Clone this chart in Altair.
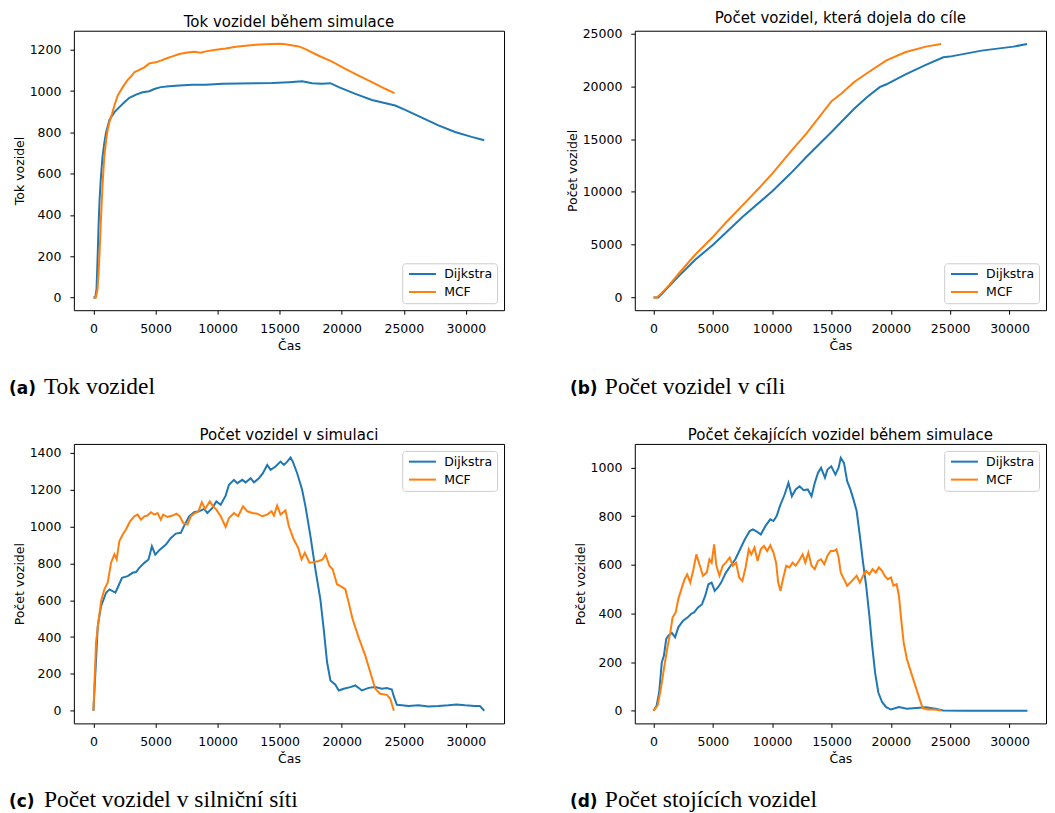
import altair as alt
import pandas as pd

# ---------------- data ----------------
series_names = ["Dijkstra", "MCF"]
series_colors = ["#1f77b4", "#ff7f0e"]
x_ticks = [0, 5000, 10000, 15000, 20000, 25000, 30000]

panel_titles = ["Tok vozidel během simulace", "Počet vozidel, která dojela do cíle",
                "Počet vozidel v simulaci", "Počet čekajících vozidel během simulace"]
y_titles = ["Tok vozidel", "Počet vozidel", "Počet vozidel", "Počet vozidel"]
caption_letters = ["(a)", "(b)", "(c)", "(d)"]
caption_texts = ["Tok vozidel", "Počet vozidel v cíli", "Počet vozidel v silniční síti", "Počet stojících vozidel"]

a_y_ticks = [0, 200, 400, 600, 800, 1000, 1200]
b_y_ticks = [0, 5000, 10000, 15000, 20000, 25000]
c_y_ticks = [0, 200, 400, 600, 800, 1000, 1200, 1400]
d_y_ticks = [0, 200, 400, 600, 800, 1000]

# (a) flow
a_dij_t = [0, 150, 250, 330, 420, 500, 600, 730, 880, 1020, 1290, 1690, 2090, 2490, 2890, 3430, 3960, 4500, 4900,
           5430, 6100, 6910, 7980, 9050, 10390, 11730, 13060, 14400, 15740, 16810, 17620, 18420, 19090, 19760,
           21100, 22430, 24310, 25110, 26450, 27790, 29130, 30460, 31480]
a_dij_v = [0, 0, 40, 180, 360, 480, 580, 680, 750, 800, 860, 898, 922, 946, 967, 983, 994, 999, 1010,
           1019, 1023, 1027, 1030, 1031, 1035, 1036, 1038, 1039, 1043, 1047, 1038, 1035, 1038, 1019,
           986, 957, 930, 909, 871, 834, 802, 778, 762]
a_mcf_t = [0, 190, 330, 460, 600, 730, 870, 1020, 1140, 1290, 1500, 1690, 1950, 2360, 2760, 3030, 3290, 3690,
           4100, 4500, 5030, 5430, 5970, 6370, 6910, 7580, 8110, 8650, 9050, 9850, 10650, 11460, 12260, 13060,
           13870, 14940, 15470, 16540, 17080, 18150, 19220, 20290, 21360, 22430, 23500, 24250]
a_mcf_v = [0, 0, 40, 170, 370, 540, 680, 760, 810, 850, 890, 930, 978, 1019, 1054, 1070, 1091, 1102,
           1115, 1134, 1139, 1147, 1160, 1168, 1179, 1187, 1190, 1186, 1192, 1200, 1206, 1214, 1219, 1224,
           1227, 1229, 1227, 1216, 1203, 1171, 1142, 1107, 1075, 1043, 1011, 990]

# (b) arrived vehicles
b_dij_t = [0, 400, 670, 1340, 2150, 3490, 5020, 7520, 10010, 11540, 12880, 15000, 16910, 17980, 19060, 19590,
           21200, 22810, 24420, 24960, 27650, 30330, 31480]
b_dij_v = [0, 0, 315, 1100, 2044, 3554, 5000, 7642, 10064, 11730, 13303, 15662, 17864, 18964, 19908, 20160,
           21103, 21952, 22738, 22801, 23367, 23745, 23997]
b_mcf_t = [0, 270, 540, 1340, 2150, 3490, 5020, 6170, 7520, 8860, 10010, 11540, 12880, 15000, 15840, 16910,
           17980, 19590, 21200, 22950, 24240]
b_mcf_v = [0, 0, 252, 1195, 2296, 4026, 5755, 7171, 8743, 10316, 11730, 13775, 15505, 18587, 19300, 20400,
           21229, 22424, 23210, 23745, 23997]

# (c) vehicles in simulation
c_dij_t = [0, 350, 620, 1020, 1290, 1770, 1950, 2300, 2760, 3160, 3430, 3690, 4100, 4440, 4710, 4980, 5350,
           5840, 6240, 6640, 7040, 7310, 7710, 8110, 8510, 8910, 9180, 9580, 9900, 10250, 10650, 10920, 11320,
           11590, 11990, 12260, 12660, 12930, 13330, 13650, 14000, 14270, 14670, 15070, 15340, 15610, 15880,
           16060, 16410, 16810, 17080, 17480, 17880, 18280, 18550, 18820, 19090, 19490, 19760, 20160, 20690,
           21100, 21630, 22170, 22700, 23240, 23640, 24040, 24170, 24440, 24840, 25380, 26180, 26980, 27790,
           28590, 29260, 29930, 30730, 31130, 31480]
c_dij_v = [0, 461, 569, 641, 659, 641, 668, 722, 731, 749, 753, 776, 803, 821, 893, 848, 875,
           902, 938, 962, 966, 1005, 1056, 1078, 1083, 1096, 1074, 1101, 1137, 1119, 1168, 1227, 1254,
           1236, 1254, 1240, 1263, 1240, 1263, 1290, 1335, 1308, 1326, 1353, 1335, 1353, 1375,
           1353, 1290, 1200, 1110, 948, 768, 605, 443, 263, 164, 141, 110, 119, 128,
           137, 110, 124, 128, 119, 123, 115, 83, 32, 29, 25, 29, 23, 25,
           29, 34, 29, 25, 25, 0]
c_mcf_t = [0, 210, 430, 620, 880, 1150, 1420, 1690, 1870, 2090, 2360, 2620, 2950, 3290, 3560, 3830, 4100, 4360,
           4630, 4900, 5170, 5430, 5620, 5970, 6370, 6690, 6960, 7230, 7580, 7840, 8110, 8460, 8730, 9000, 9370,
           9640, 9900, 10250, 10650, 10920, 11320, 11650, 12050, 12400, 12800, 13200, 13600, 14000, 14350,
           14540, 14800, 15070, 15470, 15740, 16140, 16490, 16760, 17030, 17400, 17750, 18150, 18470, 18690,
           19010, 19270, 19620, 19970, 20290, 20560, 20880, 21360, 21900, 22300, 22700, 23100, 23640, 23910,
           24200]
c_mcf_v = [0, 371, 497, 596, 659, 695, 804, 849, 822, 921, 957, 984, 1029, 1056, 1065, 1038, 1056, 1060,
           1078, 1065, 1074, 1038, 1065, 1052, 1060, 1070, 1056, 1020, 1011, 1056, 1070, 1083, 1132, 1096, 1137,
           1110, 1092, 1056, 998, 1047, 1074, 1056, 1110, 1083, 1074, 1070, 1056, 1065, 1083,
           1060, 1114, 1065, 1088, 1002, 930, 885, 822, 858, 804, 807, 813, 822, 849,
           786, 768, 687, 674, 660, 587, 497, 398, 299, 209, 119, 92, 86, 65,
           0]

# (d) waiting vehicles
d_dij_t = [0, 270, 480, 700, 880, 1070, 1280, 1550, 1820, 2090, 2490, 2890, 3160, 3420, 3750, 4090, 4360, 4630,
           4900, 5160, 5430, 5700, 6100, 6500, 6900, 7300, 7700, 8110, 8370, 8640, 9040, 9440, 9840, 10110,
           10380, 10650, 11050, 11370, 11660, 11980, 12310, 12650, 13000, 13320, 13590, 13860, 14120, 14450,
           14660, 14980, 15330, 15600, 15780, 16050, 16320, 16590, 16850, 17120, 17390, 17660, 17920, 18190,
           18400, 18670, 18940, 19260, 19610, 20010, 20680, 21350, 22150, 22950, 23750, 24420, 26160, 28840,
           31510]
d_dij_v = [0, 22, 76, 199, 227, 295, 311, 320, 302, 343, 370, 384, 398, 404, 425, 438, 473, 520,
           527, 493, 507, 527, 568, 596, 623, 664, 705, 739, 746, 739, 725, 760, 787, 780,
           800, 841, 889, 937, 882, 910, 923, 907, 910, 882, 937, 978, 999, 958,
           992, 1005, 971, 999, 1040, 1019, 944, 910, 869, 821, 719, 609, 514, 391,
           281, 158, 76, 36, 15, 5, 15, 8, 11, 14, 8, 1, 0, 0,
           0]
d_mcf_t = [0, 350, 620, 880, 1150, 1420, 1610, 1870, 2090, 2350, 2620, 2840, 3100, 3370, 3610, 3910, 4170, 4490,
           4710, 4900, 5110, 5300, 5560, 5830, 6100, 6420, 6690, 6960, 7220, 7490, 7760, 8030, 8240, 8510, 8770,
           9040, 9310, 9580, 9840, 10110, 10330, 10510, 10700, 10910, 11180, 11450, 11720, 11980, 12250, 12570,
           12790, 13050, 13320, 13590, 13860, 14120, 14390, 14660, 14930, 15200, 15410, 15600, 15780, 16050,
           16320, 16590, 16850, 17120, 17390, 17660, 17920, 18190, 18460, 18730, 18990, 19260, 19470, 19740,
           20010, 20220, 20490, 20680, 20870, 21080, 21350, 21610, 21880, 22150, 22420, 22680, 23090, 23620,
           24290]
d_mcf_v = [0, 22, 90, 172, 254, 322, 384, 404, 459, 500, 541, 561, 527, 582, 643, 596, 555, 568,
           623, 609, 684, 596, 555, 596, 609, 630, 596, 609, 548, 534, 589, 664, 643, 671, 616,
           664, 678, 657, 680, 650, 609, 527, 493, 541, 596, 589, 609, 596, 616, 643,
           609, 650, 596, 582, 616, 623, 602, 637, 657, 657, 664, 630, 568, 541,
           514, 527, 541, 555, 527, 555, 575, 561, 582, 568, 589, 575, 555, 541,
           548, 514, 520, 473, 377, 281, 213, 172, 131, 90, 49, 11, 5, 5,
           1]

# ---------------- chart ----------------
W_LEFT, W_RIGHT, H = 431, 412, 280
X_DOMAIN = [-1575, 33075]
FONT = "DejaVu Sans"


def frame(dt, dv, mt, mv):
    return pd.DataFrame({
        "t": list(dt) + list(mt),
        "v": list(dv) + list(mv),
        "s": [series_names[0]] * len(dt) + [series_names[1]] * len(mt),
    })


def panel(df, i, yticks, ydomain, legend_orient, width):
    lines = alt.Chart(df).mark_line(strokeWidth=2).encode(
        x=alt.X("t:Q", title="Čas",
                scale=alt.Scale(domain=X_DOMAIN, nice=False, zero=False),
                axis=alt.Axis(values=x_ticks, format="d")),
        y=alt.Y("v:Q", title=y_titles[i],
                scale=alt.Scale(domain=ydomain, nice=False, zero=False),
                axis=alt.Axis(values=yticks, format="d")),
        color=alt.Color("s:N",
                        scale=alt.Scale(domain=series_names, range=series_colors),
                        legend=alt.Legend(title=None, orient=legend_orient)),
    )
    cap = pd.DataFrame({"letter": [caption_letters[i]], "text": [caption_texts[i]]})
    cap_letter = alt.Chart(cap).mark_text(
        align="left", baseline="alphabetic", font=FONT, fontWeight="bold",
        fontSize=17, color="black"
    ).encode(x=alt.value(-65), y=alt.value(H + 84), text="letter:N")
    cap_text = alt.Chart(cap).mark_text(
        align="left", baseline="alphabetic", font="Liberation Serif",
        fontSize=23.5, color="black"
    ).encode(x=alt.value(-30), y=alt.value(H + 84), text="text:N")
    return alt.layer(lines, cap_letter, cap_text).properties(
        width=width, height=H,
        title=alt.TitleParams(text=panel_titles[i], font=FONT, fontSize=15, fontWeight="normal",
                              color="black", anchor="middle", offset=1),
    )


pa = panel(frame(a_dij_t, a_dij_v, a_mcf_t, a_mcf_v), 0, a_y_ticks, [-61, 1292], "bottom-right", W_LEFT)
pb = panel(frame(b_dij_t, b_dij_v, b_mcf_t, b_mcf_v), 1, b_y_ticks, [-1200, 25250], "bottom-right", W_RIGHT)
pc = panel(frame(c_dij_t, c_dij_v, c_mcf_t, c_mcf_v), 2, c_y_ticks, [-69, 1449], "top-right", W_LEFT)
pd_ = panel(frame(d_dij_t, d_dij_v, d_mcf_t, d_mcf_v), 3, d_y_ticks, [-52, 1097], "top-right", W_RIGHT)

chart = alt.concat(
    pa, pb, pc, pd_, columns=2, spacing={"row": 134, "column": 131}, bounds="flush"
).properties(
    padding={"left": 0, "top": 2, "right": 0, "bottom": 0}
).resolve_scale(
    color="independent"
).configure_view(
    stroke="black", strokeWidth=1
).configure_axis(
    grid=False, domain=False, tickColor="black", tickSize=4, tickWidth=1,
    labelFont=FONT, labelFontSize=12.5, labelColor="black",
    labelFlush=False, labelOverlap=False,
    titleFont=FONT, titleFontSize=12.5, titleFontWeight="normal", titleColor="black",
).configure_axisX(
    labelPadding=8, titlePadding=5
).configure_axisY(
    labelPadding=9, titlePadding=3
).configure_legend(
    fillColor="rgba(255,255,255,0.8)", strokeColor="#cccccc", strokeWidth=1, cornerRadius=3,
    padding=4.5, labelFont=FONT, labelFontSize=12.5, labelColor="black",
    symbolType="M-3.375,0H3.375", symbolSize=64, symbolStrokeWidth=2, symbolOffset=9.5,
    labelOffset=15.5, rowPadding=5, offset=7,
)

chart.save("out.html", embed_options={"renderer": "svg", "actions": False})
